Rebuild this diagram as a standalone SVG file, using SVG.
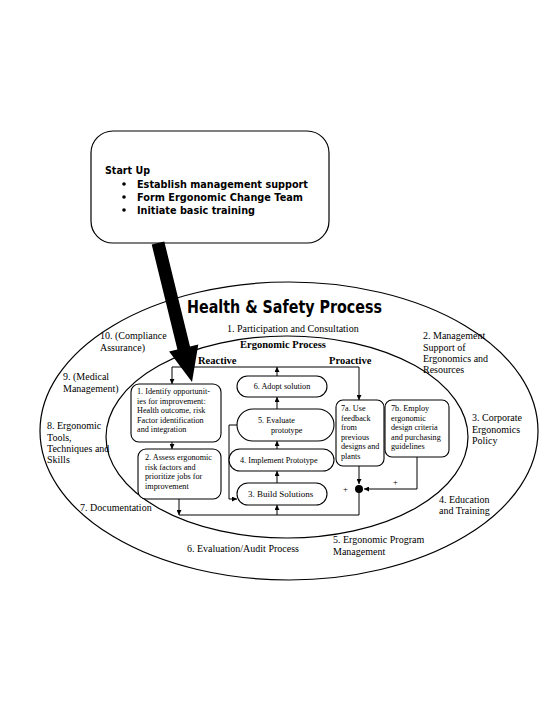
<svg xmlns="http://www.w3.org/2000/svg" width="555" height="718" viewBox="0 0 555 718">
<defs>
<marker id="ah" viewBox="0 0 10 10" refX="10" refY="5" markerWidth="5" markerHeight="5" orient="auto" markerUnits="userSpaceOnUse">
<path d="M0,0 L10,5 L0,10 z" fill="#000"/>
</marker>
<style>
.s{font-family:"Liberation Serif","Times New Roman",serif;fill:#000}
.o{font-size:10px}
.b{font-size:8.2px}
.g{font-family:"DejaVu Sans",sans-serif;font-weight:bold;fill:#000}
.sh{fill:#fff;stroke:#000;stroke-width:1.1}
.ln{fill:none;stroke:#000;stroke-width:1}
.ar{fill:none;stroke:#000;stroke-width:1;marker-end:url(#ah)}
</style>
</defs>
<rect width="555" height="718" fill="#fff"/>

<g id="outer">
<ellipse cx="289" cy="431" rx="249" ry="149" fill="none" stroke="#000" stroke-width="1.2"/>
<text class="g" x="187" y="313" font-size="17" textLength="195" lengthAdjust="spacingAndGlyphs">Health &amp; Safety Process</text>
<text class="s o" x="227" y="332">1. Participation and Consultation</text>
<text class="s o" x="100" y="339">10. (Compliance</text>
<text class="s o" x="100" y="351">Assurance)</text>
<text class="s o" x="63" y="380">9. (Medical</text>
<text class="s o" x="63" y="392">Management)</text>
<text class="s o" x="47" y="429">8. Ergonomic</text>
<text class="s o" x="47" y="441">Tools,</text>
<text class="s o" x="47" y="452">Techniques and</text>
<text class="s o" x="47" y="463">Skills</text>
<text class="s o" x="80" y="511">7. Documentation</text>
<text class="s o" x="187" y="552">6. Evaluation/Audit Process</text>
<text class="s o" x="333" y="543">5. Ergonomic Program</text>
<text class="s o" x="333" y="555">Management</text>
<text class="s o" x="439" y="503">4. Education</text>
<text class="s o" x="439" y="514">and Training</text>
<text class="s o" x="472" y="421">3. Corporate</text>
<text class="s o" x="472" y="433">Ergonomics</text>
<text class="s o" x="472" y="444">Policy</text>
<text class="s o" x="423" y="339">2. Management</text>
<text class="s o" x="423" y="351">Support of</text>
<text class="s o" x="423" y="362">Ergonomics and</text>
<text class="s o" x="423" y="373">Resources</text>
</g>

<g id="inner">
<ellipse cx="287" cy="437" rx="181" ry="101" fill="none" stroke="#000" stroke-width="1.2"/>
<text class="s" x="283" y="348" font-size="10.5" font-weight="bold" text-anchor="middle">Ergonomic Process</text>
<text class="s" x="198" y="364" font-size="10.5" font-weight="bold">Reactive</text>
<text class="s" x="329" y="364" font-size="10.5" font-weight="bold">Proactive</text>
</g>

<g id="connectors">
<path class="ln" d="M172,367 H359"/>
<path class="ar" d="M172,367 V384"/>
<path class="ar" d="M359,367 V400"/>
<path class="ar" d="M277,376 V367"/>
<path class="ar" d="M172,442 V449"/>
<path class="ar" d="M277,409 V397"/>
<path class="ar" d="M277,449 V441"/>
<path class="ar" d="M277,483 V471"/>
<path class="ar" d="M237,425 H229 V499 H237"/>
<path class="ar" d="M179,499 V515"/>
<path class="ln" d="M179,515 H359 V489"/>
<path class="ar" d="M277,515 V505"/>
<path class="ar" d="M359,466 V484"/>
<path class="ar" d="M417,457 V489 H364"/>
<circle cx="359" cy="489" r="4" fill="#000"/>
<text class="s" x="393" y="485" font-size="8.5">+</text>
<text class="s" x="343" y="492" font-size="8.5">+</text>
</g>

<g id="n1">
<rect class="sh" x="131" y="384" width="90" height="58" rx="8"/>
<text class="s b" x="137" y="394">1. Identify opportunit-</text>
<text class="s b" x="137" y="403.5">ies for improvement:</text>
<text class="s b" x="137" y="413">Health outcome, risk</text>
<text class="s b" x="137" y="422.5">Factor identification</text>
<text class="s b" x="137" y="432">and integration</text>
</g>
<g id="n2">
<rect class="sh" x="138" y="449" width="83" height="50" rx="8"/>
<text class="s b" x="145" y="460">2. Assess ergonomic</text>
<text class="s b" x="145" y="469.5">risk factors and</text>
<text class="s b" x="145" y="479">prioritize jobs for</text>
<text class="s b" x="145" y="488.5">improvement</text>
</g>
<g id="n6">
<rect class="sh" x="237" y="376" width="90" height="21" rx="10.5"/>
<text class="s b" x="282" y="389" text-anchor="middle">6. Adopt solution</text>
</g>
<g id="n5">
<rect class="sh" x="237" y="409" width="97" height="32" rx="16"/>
<text class="s b" x="258" y="423">5. Evaluate</text>
<text class="s b" x="271" y="433">prototype</text>
</g>
<g id="n4">
<rect class="sh" x="229" y="449" width="105" height="22" rx="11"/>
<text class="s b" x="240" y="463">4. Implement Prototype</text>
</g>
<g id="n3">
<rect class="sh" x="237" y="483" width="90" height="22" rx="11"/>
<text class="s" x="248" y="497" font-size="9">3. Build Solutions</text>
</g>
<g id="n7a">
<rect class="sh" x="336" y="400" width="48" height="66" rx="7"/>
<text class="s b" x="341" y="411">7a. Use</text>
<text class="s b" x="341" y="420.5">feedback</text>
<text class="s b" x="341" y="430">from</text>
<text class="s b" x="341" y="439.5">previous</text>
<text class="s b" x="341" y="449">designs and</text>
<text class="s b" x="341" y="458.5">plants</text>
</g>
<g id="n7b">
<rect class="sh" x="385" y="400" width="64" height="57" rx="7"/>
<text class="s b" x="391" y="411">7b. Employ</text>
<text class="s b" x="391" y="420.5">ergonomic</text>
<text class="s b" x="391" y="430">design criteria</text>
<text class="s b" x="391" y="439.5">and purchasing</text>
<text class="s b" x="391" y="449">guidelines</text>
</g>

<g id="startup">
<rect x="91" y="131" width="238" height="112" rx="22" fill="#fff" stroke="#000" stroke-width="1.2"/>
<text class="g" x="105" y="174" font-size="11" textLength="45" lengthAdjust="spacingAndGlyphs">Start Up</text>
<circle cx="124" cy="184" r="1.8" fill="#000"/>
<circle cx="124" cy="197" r="1.8" fill="#000"/>
<circle cx="124" cy="210" r="1.8" fill="#000"/>
<text class="g" x="137" y="188" font-size="11" textLength="171" lengthAdjust="spacingAndGlyphs">Establish management support</text>
<text class="g" x="137" y="201" font-size="11" textLength="166" lengthAdjust="spacingAndGlyphs">Form Ergonomic Change Team</text>
<text class="g" x="137" y="214" font-size="11" textLength="118" lengthAdjust="spacingAndGlyphs">Initiate basic training</text>
</g>

<g id="bigarrow">
<polygon points="164.3,241.5 190,346.5 198.3,344.4 192,382 169.1,351.6 177.4,349.5 151.7,244.5" fill="#000"/>
</g>
</svg>
